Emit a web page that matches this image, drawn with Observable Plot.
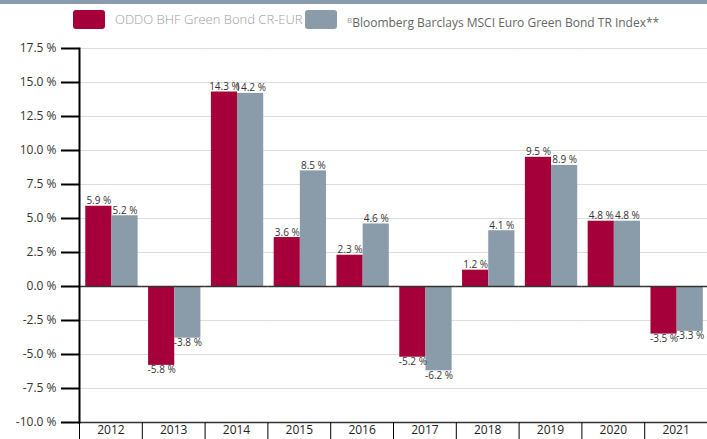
<!DOCTYPE html>
<html>
<head>
<meta charset="utf-8">
<script src="https://cdn.jsdelivr.net/npm/d3@7"></script>
<script src="https://cdn.jsdelivr.net/npm/@observablehq/plot@0.6"></script>
<style>
  html, body { margin: 0; padding: 0; background: #fff; }
  body { width: 707px; height: 439px; overflow: hidden; font-family: "Open Sans", "Liberation Sans", sans-serif; }
  #top { height: 4px; background: #8a9cab; }
  #legend { position: relative; height: 36px; }
  .sw { position: absolute; top: 6px; width: 32px; height: 19px; border-radius: 3px; }
  .lt { position: absolute; top: 6px; white-space: nowrap; line-height: 19px; }
  svg { display: block; }
</style>
</head>
<body>
<div id="top"></div>
<div id="legend"></div>
<div id="chart"></div>
<script>
const years = ["2012","2013","2014","2015","2016","2017","2018","2019","2020","2021"];
const seriesNames = ["ODDO BHF Green Bond CR-EUR", "Bloomberg Barclays MSCI Euro Green Bond TR Index**"];
const fundValues = [5.9, -5.8, 14.3, 3.6, 2.3, -5.2, 1.2, 9.5, 4.8, -3.5];
const indexValues = [5.2, -3.8, 14.2, 8.5, 4.6, -6.2, 4.1, 8.9, 4.8, -3.3];
const yTicks = [-10, -7.5, -5, -2.5, 0, 2.5, 5, 7.5, 10, 12.5, 15, 17.5];
const colors = ["#a6003b", "#8a9baa"];

const data = years.flatMap((yr, i) => [
  {year: yr, series: seriesNames[0], value: fundValues[i]},
  {year: yr, series: seriesNames[1], value: indexValues[i]}
]);
const fmt = v => v.toFixed(1) + " %";

// legend
const legend = document.getElementById("legend");
legend.innerHTML = `
  <div class="sw" style="left:73px;background:${colors[0]}"></div>
  <div class="lt" style="left:115px;font-size:13px;color:#9d9d9d;font-weight:300">${seriesNames[0]}</div>
  <div class="sw" style="left:305px;background:${colors[1]}"></div>
  <div class="lt" style="left:347px;font-size:12px;color:#666"><span style="font-size:8px;color:#999;vertical-align:4px">B</span>${seriesNames[1]}</div>
`;

const chart = Plot.plot({
  width: 707,
  height: 399,
  marginLeft: 79,
  marginRight: 0,
  marginTop: 8,
  marginBottom: 17,
  style: {fontFamily: "'Open Sans', 'Liberation Sans', sans-serif", fontSize: "12px", color: "#333", background: "#fff"},
  fx: {domain: years, paddingInner: 0, paddingOuter: 0, round: false, label: null},
  x: {domain: seriesNames, paddingInner: 0, paddingOuter: 0.2, align: 0.6, round: false, axis: null},
  y: {domain: [-10, 17.5], label: null},
  color: {domain: seriesNames, range: colors},
  marks: [
    Plot.ruleY(yTicks, {stroke: "#dddddd", strokeWidth: 1}),
    Plot.barY(data, {fx: "year", x: "series", y: "value", fill: "series"}),
    Plot.ruleY([0], {stroke: "#333", strokeWidth: 1.5}),
    Plot.ruleY([-10], {stroke: "#333", strokeWidth: 1.5}),
    Plot.text(data.filter(d => d.value >= 0), {fx: "year", x: "series", y: "value", text: d => fmt(d.value), lineAnchor: "bottom", dy: -2, fontSize: 10, fill: "#333"}),
    Plot.text(data.filter(d => d.value < 0), {fx: "year", x: "series", y: "value", text: d => fmt(d.value), lineAnchor: "top", dy: 1, fontSize: 10, fill: "#333"}),
    Plot.axisY({ticks: yTicks, tickSize: 18, tickPadding: 5, tickFormat: d => d.toFixed(1) + " %", strokeWidth: 2, stroke: "#000", fill: "#333", fontSize: 12, label: null}),
    Plot.axisFx({anchor: "bottom", tickSize: 0, tickPadding: 3, fontSize: 12, fill: "#222", label: null}),
    Plot.axisFx({anchor: "bottom", text: null, tickSize: 17, dx: -31.4, stroke: "#000", strokeWidth: 1, label: null}),
    Plot.frame({anchor: "left", stroke: "#000", strokeWidth: 2, facetAnchor: "left"})
  ]
});
document.getElementById("chart").appendChild(chart);
</script>
</body>
</html>
